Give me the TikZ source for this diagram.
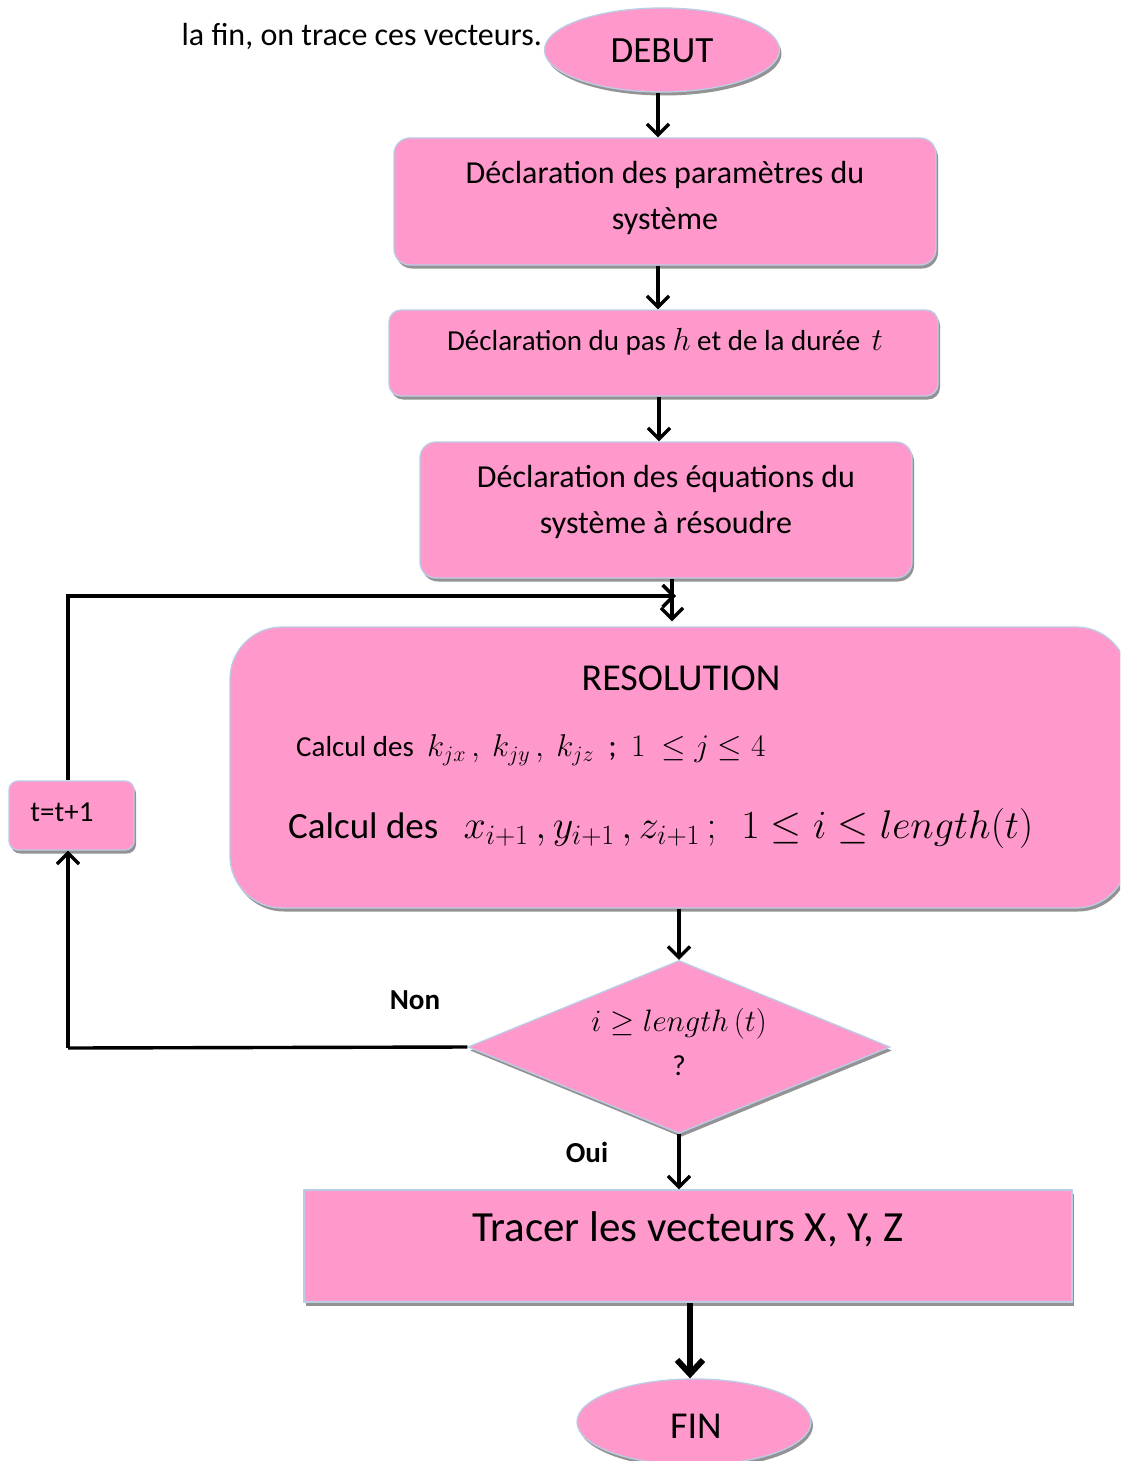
\documentclass[tikz,border=0pt]{standalone}
\usepackage{fix-cm}
\usepackage{fontspec}
\setmainfont{Carlito}
\usetikzlibrary{shapes.geometric,arrows.meta,shadows}
\definecolor{pinkf}{RGB}{255,153,204}
\definecolor{bord}{RGB}{185,205,229}
\begin{document}
\begin{tikzpicture}[x=1pt,y=-1pt,
  shp/.style={fill=pinkf, draw=bord, line width=1.3pt, inner sep=0pt,
    drop shadow={shadow xshift=2pt, shadow yshift=-3.5pt, fill=gray!85, opacity=1}},
  rbox/.style={shp, rectangle, rounded corners=16pt},
  ell/.style={shp, ellipse},
  txt/.style={inner sep=0pt, align=center},
  arr/.style={line width=3.4pt, -{Straight Barb[length=11pt,width=22pt]}},
  thickarr/.style={line width=6pt, -{Straight Barb[length=14pt,width=26pt]}}
]
\useasboundingbox (0,0) rectangle (1120,1461);
\clip (0,0) rectangle (1120,1461);

% top text
\node[txt, anchor=base east, font=\fontsize{32}{36}\selectfont] (toptxt) at (542,46) {la fin, on trace ces vecteurs.};

% shapes
\node[ell, minimum width=235pt, minimum height=84pt] (debut) at (662,50) {};
\node[rbox, minimum width=542pt, minimum height=127pt] (box1) at (665,201.5) {};
\node[rbox, minimum width=549pt, minimum height=86pt, rounded corners=12pt] (box2) at (663.5,353) {};
\node[rbox, minimum width=492pt, minimum height=136pt] (box3) at (666,510) {};
\node[rbox, minimum width=898pt, minimum height=281pt, rounded corners=52pt] (reso) at (679,767.5) {};
\node[rbox, minimum width=125pt, minimum height=69pt, rounded corners=9pt] (tbox) at (71.5,815.5) {};
\node[shp, diamond, minimum width=422pt, minimum height=173pt] (dec) at (679,1047) {};
\node[shp, rectangle, minimum width=768pt, minimum height=112pt] (tracer) at (688,1246) {};
\node[ell, minimum width=234pt, minimum height=86pt] (fin) at (694,1422) {};

% texts
\node[txt, font=\fontsize{37}{40}\selectfont] (tdebut) at (662,51) {DEBUT};
\node[txt, font=\fontsize{32}{46}\selectfont] (t1) at (665,198) {Déclaration des paramètres du\\système};
\node[txt, font=\fontsize{29}{32}\selectfont] (t2) at (665,342) {Déclaration du pas {\fontsize{32}{32}\selectfont$h$} et de la durée \,{\fontsize{32}{32}\selectfont$t$}};
\node[txt, font=\fontsize{32}{46}\selectfont] (t3) at (666,502) {Déclaration des équations du\\système à résoudre};
\node[txt, font=\fontsize{38}{40}\selectfont] (treso) at (681,678) {RESOLUTION};
\node[txt, anchor=west, font=\fontsize{29}{30}\selectfont] (tk) at (296,750) {Calcul des \ {\fontsize{31.5}{32}\selectfont$k_{jx}\,,\ k_{jy}\,,\ k_{jz}$ \ ; \ $1\ \leq j\leq 4$}};
\node[txt, anchor=west, font=\fontsize{37}{40}\selectfont] (tx) at (288,828) {Calcul des \ \ {\fontsize{40}{44}\selectfont$x_{i+1}\,,y_{i+1}\,,z_{i+1}\,;\ \ 1\leq i\leq length(t)$}};
\node[txt, font=\fontsize{29}{30}\selectfont] (tt) at (62,812) {t=t+1};
\node[txt, font=\bfseries\fontsize{29}{30}\selectfont] (non) at (415,1000) {Non};
\node[txt, font=\bfseries\fontsize{29}{30}\selectfont] (oui) at (587,1152) {Oui};
\node[txt, font=\fontsize{31}{32}\selectfont] (tdec) at (679,1024) {$i\geq length\,(t)$};
\node[txt, font=\fontsize{29}{30}\selectfont] (tq) at (679,1066) {?};
\node[txt, font=\fontsize{43}{46}\selectfont] (ttracer) at (688,1229) {Tracer les vecteurs X, Y, Z};
\node[txt, font=\fontsize{38}{40}\selectfont] (tfin) at (696,1426) {FIN};

% connectors
\draw[arr] ([xshift=-4pt]debut.south) -- ([xshift=-7pt]box1.north);
\draw[arr] ([xshift=-7pt]box1.south) -- ([xshift=-5.5pt]box2.north);
\draw[arr] ([xshift=-4.5pt]box2.south) -- ([xshift=-7pt]box3.north);
\draw[arr] ([xshift=6pt]box3.south) -- ([xshift=-7pt,yshift=5pt]reso.north);
\coordinate (loopend) at (676,596);
\draw[arr] ([xshift=-3.5pt]tbox.north) |- (loopend);
\draw[arr] (reso.south) -- (dec.north);
\coordinate (loopcorner) at (68,1048);
\draw[line width=3.4pt] (dec.west) -- (loopcorner);
\draw[arr] (loopcorner) -- ([xshift=-3.5pt]tbox.south);
\draw[arr] (dec.south) -- ([xshift=-9pt]tracer.north);
\draw[thickarr] ([xshift=2pt]tracer.south) -- ([xshift=-4pt]fin.north);
\end{tikzpicture}
\end{document}
